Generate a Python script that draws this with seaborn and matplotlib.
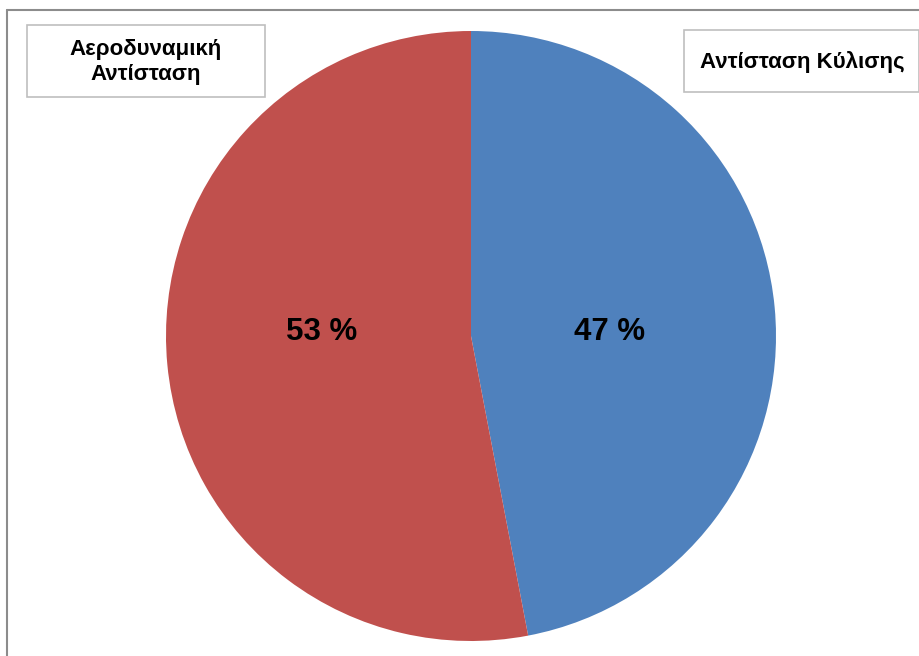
import matplotlib
matplotlib.use("Agg")
import matplotlib.pyplot as plt
import seaborn as sns
from matplotlib.patches import Rectangle
from matplotlib.lines import Line2D

sns.set_theme(style="white")
plt.rcParams['font.family'] = ['Liberation Sans', 'DejaVu Sans']

categories = ["Αντίσταση Κύλισης", "Αεροδυναμική\nΑντίσταση"]
values = [47, 53]
pct_labels = ["47 %", "53 %"]
colors = ["#4F81BD", "#C0504D"]

W, H = 920, 656
fig = plt.figure(figsize=(W / 100, H / 100), dpi=100)
ax = fig.add_axes([0, 0, 1, 1])

cx, cy, r = 471, H - 336, 305
wedges, texts = ax.pie(values, colors=colors, startangle=90, counterclock=False,
                       center=(cx, cy), radius=r, frame=True,
                       wedgeprops=dict(linewidth=0))
ax.set_xlim(0, W)
ax.set_ylim(0, H)
ax.set_aspect('equal')
ax.axis('off')

# percentage labels
ax.text(610, H - 332, pct_labels[0], ha='center', va='center', fontsize=22.5, fontweight='bold', color='black')
ax.text(322, H - 332, pct_labels[1], ha='center', va='center', fontsize=22.5, fontweight='bold', color='black')

# outer frame (top and left)
ax.add_line(Line2D([7, 7], [0, H - 10], color='#8c8c8c', lw=1.5))
ax.add_line(Line2D([7, W], [H - 10, H - 10], color='#8c8c8c', lw=1.5))

# label boxes
ax.add_patch(Rectangle((27, H - 97), 238, 72, facecolor='white', edgecolor='#bfbfbf', lw=1.2))
ax.text(146, H - 62, categories[1], ha='center', va='center', fontsize=16, fontweight='bold',
        color='black', linespacing=1.3)
ax.add_patch(Rectangle((684, H - 92), 235, 62, facecolor='white', edgecolor='#bfbfbf', lw=1.2))
ax.text(802, H - 62, categories[0], ha='center', va='center', fontsize=16, fontweight='bold',
        color='black')

fig.savefig("out.png", dpi=100)
